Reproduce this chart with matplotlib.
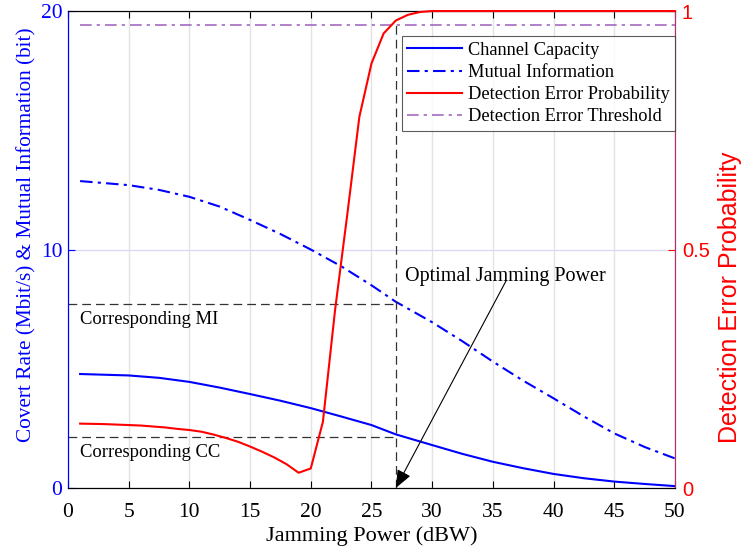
import numpy as np
import matplotlib.pyplot as plt

plt.rcParams['font.family'] = ['Liberation Serif', 'DejaVu Serif']

x_cc = [1, 5, 7.5, 10, 12.5, 15, 17.5, 20, 22.5, 25, 27, 30, 32.5, 35, 37.5, 40, 42.5, 45, 47.5, 50]
cc = [4.78, 4.72, 4.62, 4.45, 4.21, 3.94, 3.66, 3.35, 3.0, 2.64, 2.25, 1.80, 1.43, 1.10, 0.83, 0.59, 0.41, 0.27, 0.17, 0.08]

x_mi = [1, 5, 7.5, 10, 12.5, 15, 17.5, 20, 22.5, 25, 27, 30, 32.5, 35, 37.5, 40, 42.5, 45, 47.5, 50]
mi = [12.87, 12.7, 12.5, 12.21, 11.8, 11.24, 10.65, 10.0, 9.3, 8.5, 7.81, 6.95, 6.15, 5.30, 4.5, 3.76, 3.0, 2.29, 1.72, 1.24]

x_dep = [1, 2, 3, 4, 5, 6, 7, 8, 9, 10, 11, 12, 13, 14, 15, 16, 17, 18, 19, 20,
         21, 22, 23, 24, 25, 26, 27, 28, 29, 30, 35, 40, 45, 50]
dep = [0.135, 0.1345, 0.134, 0.133, 0.132, 0.131, 0.129, 0.127, 0.124, 0.1216, 0.118, 0.112,
       0.105, 0.097, 0.087, 0.076, 0.064, 0.050, 0.032, 0.041,
       0.139, 0.373, 0.572, 0.778, 0.890, 0.953, 0.980, 0.992, 0.998, 1.0, 1.0, 1.0, 1.0, 1.0]

threshold = 0.97
opt_power = 27
mi_opt = 7.71
cc_opt = 2.15

blue = '#0000ff'
red = '#ff0000'
purple = '#a36ac0'
dashdot = (0, (6, 2.5, 1.5, 2.5))
guide = (0, (7, 4))

fig = plt.figure(figsize=(7.42, 5.54), dpi=100)
ax = fig.add_axes([0.0916, 0.1191, 0.8181, 0.861])
ax2 = ax.twinx()

l1, = ax.plot(x_cc, cc, color=blue, lw=1.5, label='Channel Capacity')
l2, = ax.plot(x_mi, mi, color=blue, lw=1.5, linestyle=dashdot, label='Mutual Information')
l3, = ax2.plot(x_dep, dep, color=red, lw=1.5, label='Detection Error Probability', clip_on=False, zorder=5)
l4, = ax2.plot([1, 50], [threshold, threshold], color=purple, lw=1.2,
               linestyle=(0, (7, 3, 2, 3)), label='Detection Error Threshold')

# guide lines
ax.plot([0, opt_power], [mi_opt, mi_opt], color='#333333', lw=0.9, linestyle=guide)
ax.plot([0, opt_power], [cc_opt, cc_opt], color='#333333', lw=0.9, linestyle=guide)
ax.plot([opt_power, opt_power], [0, threshold * 20], color='#333333', lw=0.9, linestyle=guide)

ax.text(1, 7.05, 'Corresponding MI', fontsize=13.4, va='center', ha='left')
ax.text(1, 1.5, 'Corresponding CC', fontsize=13.4, va='center', ha='left')
ax.text(27.8, 8.85, 'Optimal Jamming Power', fontsize=14.5, va='center', ha='left')
ax.annotate('', xy=(27, 0), xytext=(36.1, 8.7),
            arrowprops=dict(arrowstyle='-|>,head_length=1.1,head_width=0.45', color='k', lw=0.8,
                            shrinkA=0, shrinkB=0))

ax.set_xlim(0, 50)
ax.set_ylim(0, 20)
ax2.set_ylim(0, 1)
ax.set_xticks(np.arange(0, 51, 5))
ax.set_yticks([0, 10, 20])
ax2.set_yticks([0, 0.5, 1])
ax2.set_yticklabels(['0', '0.5', '1'], family='Liberation Sans')

ax.tick_params(axis='x', direction='in', top=True, labelsize=15.5, length=5, pad=11)
ax.tick_params(axis='y', direction='in', colors=blue, labelsize=15.5, length=5, pad=4)
ax2.tick_params(axis='y', direction='in', colors=red, labelsize=14.5, length=5, pad=5)

ax.grid(axis='x', color='#e3e3e3', lw=1.0)
ax.grid(axis='y', color='#dcdaf4', lw=1.0)
ax.set_axisbelow(True)

ax.spines['left'].set_color(blue)
ax2.spines['left'].set_color(blue)
ax2.spines['right'].set_color('#b5306e')
ax.spines['right'].set_color('#b5306e')

ax.set_xlabel('Jamming Power (dBW)', fontsize=16, labelpad=3)
ax.set_ylabel('Covert Rate (Mbit/s) & Mutual Information (bit)', fontsize=15.3, color=blue, labelpad=3)
ax.yaxis.label.set_y(0.53)
ax2.set_ylabel('Detection Error Probability', fontsize=18, color=red, family='Liberation Sans', labelpad=6)
ax2.yaxis.label.set_y(0.40)

leg = ax2.legend(handles=[l1, l2, l3, l4], loc='upper right', bbox_to_anchor=(1.0, 0.947),
                 fontsize=13.2, frameon=True, fancybox=False, edgecolor='#333333',
                 borderpad=0.3, labelspacing=0.28, handlelength=3.0, handletextpad=0.3,
                 borderaxespad=0)
leg.get_frame().set_linewidth(0.8)

fig.savefig('out.png', dpi=100)
